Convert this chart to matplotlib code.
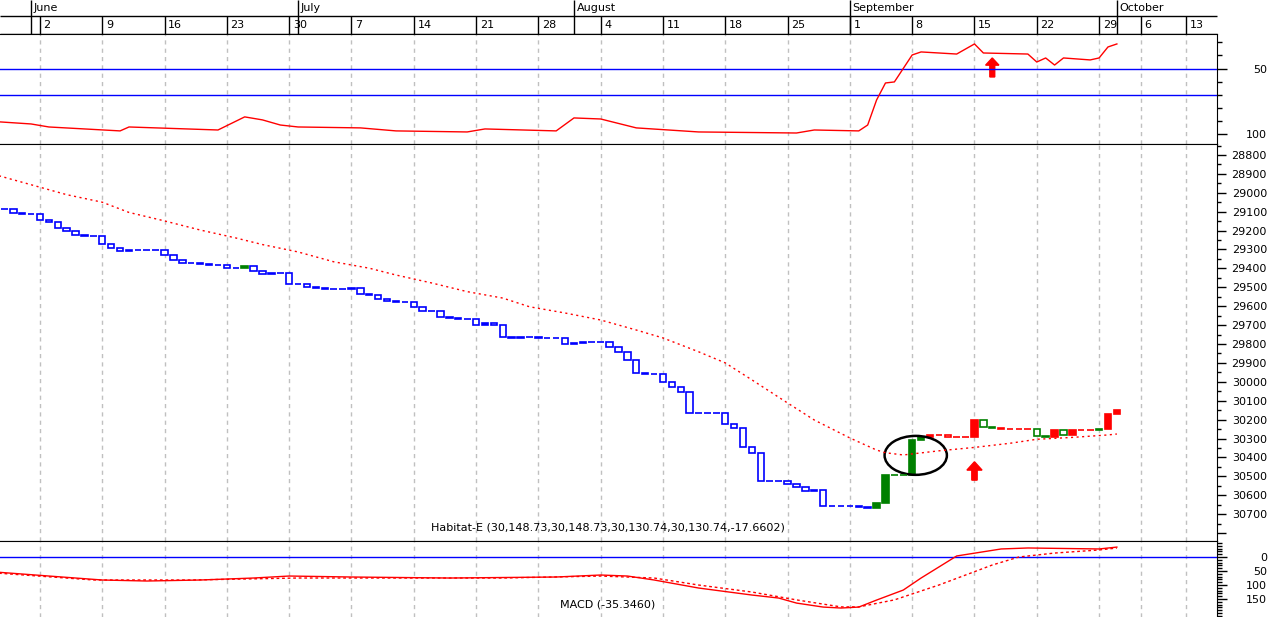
import matplotlib
matplotlib.use("Agg")
import matplotlib.pyplot as plt
from matplotlib.patches import Rectangle, Ellipse

# x axis = calendar day, 0 = Monday 2 June; chart is drawn upside down (values grow downward)
FIRST_DAY = -4
closes = [29084, 29108, 29114, 29114, 29145, 29156, 29188, 29204, 29225, 29230,
          29230, 29272, 29294, 29310, 29304, 29304, 29304, 29304, 29331, 29357,
          29370, 29374, 29377, 29384, 29384, 29398, 29396, 29386, 29415, 29428,
          29426, 29426, 29481, 29481, 29500, 29504, 29509, 29511, 29511, 29506,
          29537, 29540, 29563, 29574, 29579, 29579, 29603, 29624, 29627, 29659,
          29663, 29669, 29669, 29701, 29690, 29701, 29765, 29769, 29765, 29765,
          29769, 29766, 29770, 29802, 29797, 29790, 29790, 29788, 29817, 29844,
          29885, 29955, 29959, 29959, 30003, 30029, 30056, 30167, 30167, 30167,
          30167, 30225, 30246, 30347, 30378, 30526, 30526, 30526, 30539, 30555,
          30579, 30571, 30656, 30659, 30659, 30655, 30662, 30668, 30641, 30493,
          30495, 30495, 30308, 30290, 30283, 30280, 30294, 30294, 30294, 30202,
          30241, 30244, 30251, 30251, 30251, 30251, 30287, 30292, 30255, 30281,
          30255, 30257, 30257, 30252, 30170, 30149]
# signal colour of each bar: b = blue, g = green, r = red
signal = ("bbbbbbbbbb" "bbbbbbbbbb" "bbbbbbb"             # 4 May .. 22 June
          "g"                                             # 23 June
          "bbbbbbbbbb" "bbbbbbbbbb" "bbbbbbbbbb" "bbbbbbbbbb"
          "bbbbbbbbbb" "bbbbbbbbbb" "bbbbbbbbbb"          # .. 31 Aug
          "gggggg" "rrrrrr" "gg" "rrrr" "gg" "r" "g" "rrr" "g" "rr")

ma_days = [-5, 3, 7, 10, 14, 18, 22, 25, 29, 33, 37, 40, 44, 48, 52, 55, 59, 63, 67,
           70, 74, 77, 80, 84, 87, 91, 94, 95, 97, 101, 105, 109, 112, 116, 120, 121]
ma_vals = [28905, 29010, 29050, 29104, 29149, 29197, 29239, 29274, 29313, 29365,
           29399, 29435, 29477, 29523, 29557, 29603, 29636, 29673, 29726, 29768,
           29841, 29900, 29990, 30112, 30202, 30297, 30361, 30375, 30387, 30365,
           30347, 30325, 30304, 30294, 30281, 30276]

rsi_days = [-5, -1, 1, 9, 10, 20, 23, 25, 27, 29, 36, 40, 48, 50, 58, 60, 63, 67, 74,
            85, 87, 92, 93, 94, 95, 96, 98, 99, 103, 105, 106, 111, 112, 113, 114,
            115, 118, 119, 120, 121]
rsi_vals = [90.5, 92.3, 94.6, 97.6, 94.6, 96.9, 86.9, 89.2, 93.1, 94.6, 95.3, 97.6,
            98.4, 96.1, 97.6, 87.7, 88.5, 95.3, 98.4, 99.2, 96.9, 97.6, 93.1, 74.0,
            61.0, 60.2, 39.6, 37.3, 38.9, 31.2, 38.1, 38.9, 45.0, 41.9, 47.3, 41.9,
            43.4, 41.9, 33.5, 31.2]

macd_days = [-5, 1, 7, 12, 18, 24, 28, 35, 46, 58, 63, 66, 69, 74, 80, 83, 85, 88,
             90, 92, 94, 97, 99, 101, 103, 108, 111, 119, 121]
macd_vals = [53.6, 67.9, 82.1, 85.7, 82.1, 75.0, 67.9, 71.4, 75.0, 71.4, 64.3, 67.9,
             82.0, 110.7, 135.7, 146.4, 164.3, 178.6, 182.0, 178.6, 153.6, 117.9,
             75.0, 35.7, -3.6, -28.6, -32.1, -28.6, -35.3]
sig_days = [-5, 6, 17, 29, 40, 52, 63, 69, 74, 80, 85, 90, 92, 96, 101, 107, 110, 114,
            119, 121]
sig_vals = [57, 82, 82, 75, 75, 75, 68, 75, 100, 125, 153, 178, 178, 153, 100, 28.6,
            0, -14, -25, -32]

week_ticks = [0, 7, 14, 21, 28, 35, 42, 49, 56, 63, 70, 77, 84, 91, 98, 105, 112, 119,
              123.7, 128.8]
week_labels = ["2", "9", "16", "23", "30", "7", "14", "21", "28", "4", "11", "18",
               "25", "1", "8", "15", "22", "29", "6", "13"]
month_starts = [-1, 29, 60, 91, 121]
month_names = ["June", "July", "August", "September", "October"]

price_title = "Habitat-E (30,148.73,30,148.73,30,130.74,30,130.74,-17.6602)"
macd_title = "MACD (-35.3460)"

# annotations: circled breakout and the two signal arrows
circle_day, circle_price = 98.4, 30389
arrow_day, arrow_base, arrow_tip = 105, 30520, 30423
rsi_arrow_day, rsi_arrow_base, rsi_arrow_tip = 107, 56.4, 41.9

COL = {"b": "#0000ff", "g": "#008000", "r": "#ff0000"}
GRID = "#c0c0c0"
XLIM = (-4.494, 132.25)
W, H = 1274, 617
FS = 8


def panel(top, bottom):
    return fig.add_axes([0, (H - bottom) / H, 1217 / W, (bottom - top) / H])


def style_panel(ax, major, minor, labels, major_len, minor_len):
    ax.set_xlim(*XLIM)
    ax.set_xticks(week_ticks)
    ax.tick_params(axis="x", bottom=False, labelbottom=False)
    ax.grid(axis="x", color=GRID, ls=(0, (3, 3)), lw=1)
    ax.set_axisbelow(True)
    ax.spines["left"].set_visible(False)
    ax.yaxis.tick_right()
    ax.set_yticks(major)
    ax.set_yticklabels(labels, fontsize=FS)
    ax.set_yticks(minor, minor=True)
    ax.tick_params(axis="y", which="major", length=major_len * 0.72, width=1,
                   pad=(1267 - 1217 - major_len) * 0.72)
    ax.tick_params(axis="y", which="minor", length=minor_len * 0.72, width=1)
    for lab in ax.get_yticklabels():
        lab.set_horizontalalignment("right")


fig = plt.figure(figsize=(W / 100, H / 100), dpi=100)

# header with months and week days
ax_h = fig.add_axes([0, (H - 34) / H, 1, 34 / H])
ax_h.set_xlim(XLIM[0], XLIM[0] + (XLIM[1] - XLIM[0]) * W / 1217)
ax_h.set_ylim(34, 0)
ax_h.axis("off")
ax_h.hlines([16, 33.5], XLIM[0], XLIM[1], color="black", lw=1)
ax_h.vlines(month_starts, 0, 34, color="black", lw=1)
ax_h.vlines(week_ticks, 16, 34, color="black", lw=1)
for m, name in zip(month_starts, month_names):
    ax_h.text(m + 0.3, 8, name, fontsize=FS, ha="left", va="center")
for t, lab in zip(week_ticks, week_labels):
    ax_h.text(t + 0.4, 25, lab, fontsize=FS, ha="left", va="center")

# oscillator panel
ax_r = panel(34, 144)
ax_r.set_ylim(107.6, 23.6)
style_panel(ax_r, [50, 100], [30, 40, 60, 70, 80, 90], ["50", "100"], 10, 5)
ax_r.axhline(50, color="#0000ff", lw=1)
ax_r.axhline(70, color="#0000ff", lw=1)
ax_r.plot(rsi_days, rsi_vals, color="#ff0000", lw=1)
ax_r.arrow(rsi_arrow_day, rsi_arrow_base, 0, rsi_arrow_tip - rsi_arrow_base, width=0.55,
           head_width=1.5, head_length=5.5, length_includes_head=True, color="#ff0000")

# price panel
ax_p = panel(144, 541)
ax_p.set_ylim(30842, 28742)
pmaj = list(range(28800, 30900, 100))
plab = [str(v) if v <= 30700 else "" for v in pmaj]
style_panel(ax_p, pmaj, list(range(28750, 30850, 100)), plab, 9, 4)
opens = [closes[0]] + closes[:-1]
for i, (o, c, s) in enumerate(zip(opens, closes, signal)):
    d = FIRST_DAY + i
    col = COL[s]
    if c == o:
        ax_p.hlines(c, d - 0.38, d + 0.38, color=col, lw=1.2)
    else:
        face = "white" if c > o else col
        ax_p.add_patch(Rectangle((d - 0.36, min(o, c)), 0.72, abs(c - o),
                                 facecolor=face, edgecolor=col, lw=1.2))
ax_p.plot(ma_days, ma_vals, color="#ff0000", lw=1, ls=(0, (1.5, 2.5)))
ax_p.add_patch(Ellipse((circle_day, circle_price), 7.0, 206, fill=False,
                       edgecolor="black", lw=1.8))
ax_p.arrow(arrow_day, arrow_base, 0, arrow_tip - arrow_base, width=0.6,
           head_width=1.7, head_length=44, length_includes_head=True, color="#ff0000")
ax_p.text(0.4996, 0.035, price_title, transform=ax_p.transAxes, fontsize=FS,
          ha="center", va="center")

# MACD panel
ax_m = panel(541, 617)
ax_m.set_ylim(214, -57)
ax_m.spines["bottom"].set_visible(False)
style_panel(ax_m, [0, 50, 100, 150], list(range(-50, 220, 10)),
            ["0", "50", "100", "150"], 10, 5)
ax_m.axhline(0, color="#0000ff", lw=1)
ax_m.plot(macd_days, macd_vals, color="#ff0000", lw=1)
ax_m.plot(sig_days, sig_vals, color="#ff0000", lw=1, ls=(0, (2, 2)))
ax_m.text(0.4996, 0.158, macd_title, transform=ax_m.transAxes, fontsize=FS,
          ha="center", va="center")

fig.savefig("out.png", dpi=100)
